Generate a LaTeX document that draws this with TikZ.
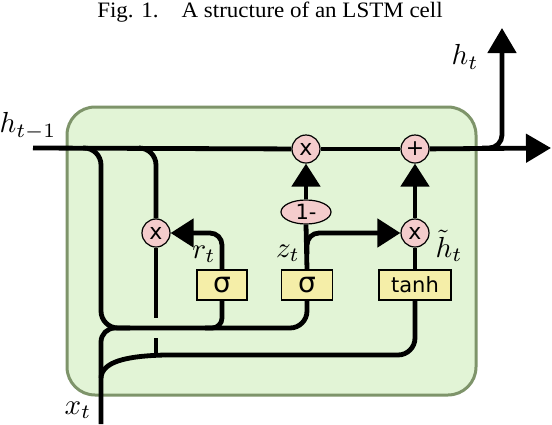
\documentclass[tikz,border=0pt]{standalone}
\usepackage{fontspec}
\setmainfont{Liberation Serif}
\newfontfamily\djv{DejaVu Sans}
\usetikzlibrary{arrows.meta,shapes.geometric}
\definecolor{cellfill}{HTML}{E2F4D6}
\definecolor{cellline}{HTML}{7E946A}
\definecolor{opfill}{HTML}{F4CCCC}
\definecolor{gatefill}{HTML}{F5EEA8}
\newcommand{\biglab}[1]{\scalebox{2.9}{\fontsize{10}{12}\selectfont$#1$}}
\begin{document}
\begin{tikzpicture}[x=1pt,y=-1pt,
  wire/.style={line width=4.8pt},
  op/.style={circle,draw,line width=1.2pt,fill=opfill,minimum size=28pt,inner sep=0pt,font=\djv\fontsize{22}{22}\selectfont},
  omin/.style={ellipse,draw,line width=1.2pt,fill=opfill,minimum width=50pt,minimum height=24pt,inner sep=0pt,font=\djv\fontsize{21}{21}\selectfont},
  gate/.style={rectangle,draw,line width=1.2pt,fill=gatefill,minimum height=30pt,inner sep=0pt,font=\djv\fontsize{21}{21}\selectfont},
  sig/.style={font=\djv\fontsize{28}{28}\selectfont},
  bigtip/.style={-{Triangle[length=25pt,width=28pt]}},
  midtip/.style={-{Triangle[length=23pt,width=28pt]}},
  lab/.style={inner sep=0pt},
  cellbox/.style={rectangle,draw=cellline,fill=cellfill,line width=3pt,rounded corners=28pt,minimum width=409pt,minimum height=288pt}
]
\useasboundingbox (0,0) rectangle (552,424);
\node[anchor=base] (cap) at (270,17) {\scalebox{1.045}[1]{\fontsize{22}{22}\selectfont Fig. 1.\quad A structure of an LSTM cell}};
\node[cellbox] (cell) at (271.5,251) {};

\node[op] (m1) at (306,149) {x};
\node[op] (ad) at (415,149) {+};
\node[op] (mr) at (156,233) {x};
\node[op] (mh) at (415,233) {x};
\node[omin] (om) at (306,212) {1-};
\node[gate,sig,minimum width=50pt] (sr) at (222,285) {σ};
\node[gate,sig,minimum width=51pt] (sz) at (307,285) {σ};
\node[gate,minimum width=72pt] (th) at (415,285) {tanh};

\coordinate (hin) at (33,148);
\coordinate (hout) at (551,148);
\coordinate (obr) at (482,148);
\coordinate (htop) at (502,28);
\coordinate (l1) at (83,148);
\coordinate (l2) at (139,148);
\coordinate (xbot) at (101,424);
\coordinate (jc) at (101,328);
\coordinate (jr) at (130,328);
\coordinate (rbr) at (205,328);
\coordinate (zbr) at (307,254);
\coordinate (g1) at (156,318);
\coordinate (g2) at (156,338);
\coordinate (g3) at (156,356);
\coordinate (xb2) at (101,378);
\coordinate (lb) at (165,355);

\draw[wire] (hin) -- (m1);
\draw[wire] (m1) -- (ad);
\draw[wire,bigtip] (ad) -- (hout);
\draw[wire,bigtip,rounded corners=13pt] (obr) -| (htop);

\draw[wire,rounded corners=17pt] (l1) -| (jc) -| (sz.south);
\draw[wire,rounded corners=14pt] (xbot) |- (jr);
\draw[wire,rounded corners=10pt] (rbr) -| (sr.south);
\draw[wire,rounded corners=17pt] (l2) -| (mr.north);
\draw[wire] (mr) -- (g1);
\draw[wire] (g2) -- (g3);
\draw[wire] (xb2) .. controls (102,362) and (125,356) .. (lb);
\draw[wire,rounded corners=17pt] (lb) -| (th.south);

\draw[wire,midtip,rounded corners=12pt] (sr.north) |- (mr.east);
\draw[wire] (sz.north) -- (om.south);
\draw[wire,midtip] (om.north) -- (m1.south);
\draw[wire,midtip,rounded corners=12pt] (zbr) |- (mh.west);
\draw[wire] (th.north) -- (mh.south);
\draw[wire,midtip] (mh.north) -- (ad.south);

\node[lab] (lhin) at (28,126) {\biglab{h_{t-1}}};
\node[lab] (lht) at (465,57) {\biglab{h_t}};
\node[lab] (lxt) at (78,410) {\biglab{x_t}};
\node[lab] (lrt) at (204,254) {\biglab{r_t}};
\node[lab] (lzt) at (288,253) {\biglab{z_t}};
\node[lab] (lhh) at (449,246) {\biglab{\tilde{h}_t}};
\end{tikzpicture}
\end{document}
